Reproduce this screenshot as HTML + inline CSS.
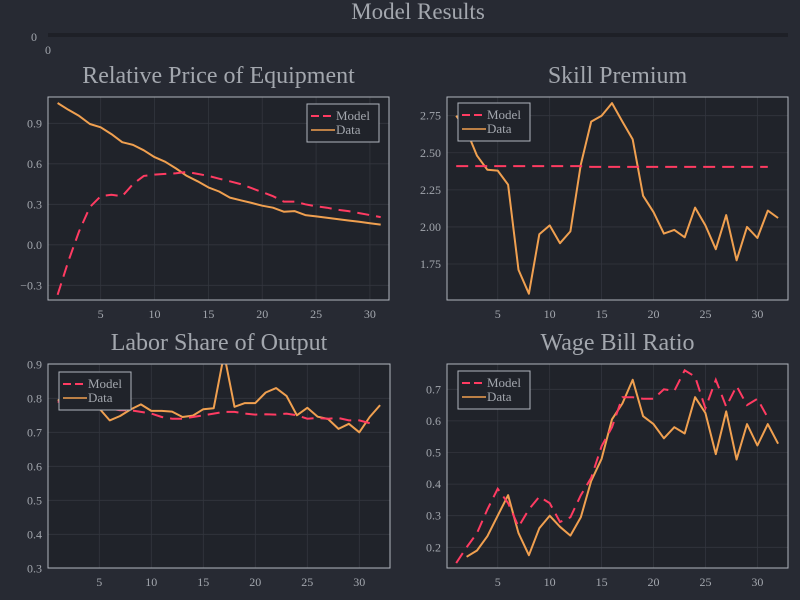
<!DOCTYPE html>
<html><head><meta charset="utf-8"><style>
html,body{margin:0;padding:0;background:#272a33;}
svg{display:block;font-family:"Liberation Serif",serif;}
</style></head><body>
<svg id="chart" width="800" height="600" viewBox="0 0 800 600" xmlns="http://www.w3.org/2000/svg">
<rect x="0" y="0" width="800" height="600" fill="#272a33"/>
<text x="418" y="19" text-anchor="middle" font-size="23" fill="#a3a7ae">Model Results</text>
<rect x="48" y="33" width="740" height="4" fill="#1e2027"/>
<text x="37" y="41" text-anchor="end" font-size="12" fill="#a3a7ae">0</text>
<text x="48" y="54" text-anchor="middle" font-size="12" fill="#a3a7ae">0</text>
</svg>
<script>
const p1Model=[-0.37,-0.12,0.10,0.28,0.36,0.37,0.36,0.45,0.51,0.52,0.525,0.53,0.54,0.525,0.51,0.49,0.47,0.45,0.42,0.39,0.36,0.32,0.32,0.30,0.285,0.275,0.26,0.25,0.235,0.22,0.205];
const p1Data=[1.05,1.00,0.955,0.895,0.87,0.82,0.76,0.74,0.70,0.65,0.615,0.565,0.51,0.47,0.425,0.395,0.35,0.33,0.31,0.29,0.275,0.245,0.25,0.22,0.21,0.20,0.19,0.18,0.17,0.16,0.15];
const p1YTicks=[-0.3,0.0,0.3,0.6,0.9];
const p1YLabels=["\u22120.3","0.0","0.3","0.6","0.9"];
const p2Model=[2.41,2.41,2.41,2.41,2.41,2.41,2.41,2.41,2.41,2.41,2.41,2.41,2.41,2.405,2.405,2.405,2.405,2.405,2.405,2.405,2.405,2.405,2.405,2.405,2.405,2.405,2.405,2.405,2.405,2.405,2.405];
const p2Data=[2.75,2.65,2.48,2.385,2.38,2.285,1.71,1.55,1.95,2.01,1.89,1.97,2.42,2.71,2.75,2.835,2.71,2.59,2.21,2.10,1.955,1.98,1.93,2.13,2.01,1.85,2.08,1.775,2.00,1.925,2.11,2.06];
const p2YTicks=[1.75,2.0,2.25,2.5,2.75];
const p2YLabels=["1.75","2.00","2.25","2.50","2.75"];
const p3Model=[0.79,0.785,0.78,0.775,0.77,0.77,0.765,0.765,0.76,0.755,0.745,0.74,0.74,0.745,0.75,0.755,0.76,0.76,0.755,0.752,0.753,0.752,0.755,0.75,0.74,0.742,0.74,0.742,0.735,0.735,0.727];
const p3Data=[0.795,0.79,0.785,0.78,0.77,0.735,0.748,0.767,0.782,0.763,0.763,0.761,0.745,0.749,0.768,0.771,0.93,0.775,0.786,0.786,0.817,0.83,0.807,0.75,0.772,0.746,0.739,0.71,0.725,0.70,0.745,0.78];
const p3YTicks=[0.3,0.4,0.5,0.6,0.7,0.8,0.9];
const p3YLabels=["0.3","0.4","0.5","0.6","0.7","0.8","0.9"];
const p4Model=[0.15,0.20,0.245,0.32,0.385,0.34,0.265,0.32,0.36,0.34,0.28,0.295,0.365,0.42,0.52,0.58,0.675,0.675,0.67,0.67,0.70,0.695,0.76,0.74,0.64,0.73,0.645,0.71,0.65,0.67,0.61];
const p4Data=[null,0.17,0.19,0.235,0.30,0.365,0.245,0.175,0.26,0.30,0.265,0.237,0.295,0.41,0.48,0.605,0.655,0.73,0.615,0.59,0.545,0.58,0.56,0.675,0.625,0.495,0.63,0.478,0.59,0.522,0.59,0.528];
const p4YTicks=[0.2,0.3,0.4,0.5,0.6,0.7];
const p4YLabels=["0.2","0.3","0.4","0.5","0.6","0.7"];
const xTicks=[5,10,15,20,25,30];

const NS="http://www.w3.org/2000/svg";
const svg=document.getElementById('chart');
function mk(tag,attrs,parent){const e=document.createElementNS(NS,tag);for(const k in attrs)e.setAttribute(k,attrs[k]);(parent||svg).appendChild(e);return e;}

const panels=[
 {id:'relative-price',title:'Relative Price of Equipment',box:[48,97,389,300],x1:57.6,xu:10.77,y0:0.9,yp0:123.3,yu:135,model:p1Model,data:p1Data,yt:p1YTicks,yl:p1YLabels,leg:[307,104]},
 {id:'skill-premium',title:'Skill Premium',box:[447,97,788,300],x1:456.2,xu:10.385,y0:2.75,yp0:115.7,yu:148.3,model:p2Model,data:p2Data,yt:p2YTicks,yl:p2YLabels,leg:[458,103]},
 {id:'labor-share',title:'Labor Share of Output',box:[48,364,390,568],x1:57.7,xu:10.4,y0:0.9,yp0:364.3,yu:340,model:p3Model,data:p3Data,yt:p3YTicks,yl:p3YLabels,leg:[59,372]},
 {id:'wage-bill',title:'Wage Bill Ratio',box:[447,364,788,568],x1:456.2,xu:10.385,y0:0.7,yp0:389.3,yu:316,model:p4Model,data:p4Data,yt:p4YTicks,yl:p4YLabels,leg:[458,371]}
];

panels.forEach(p=>{
 const [L,T,R,B]=p.box;
 const xs=v=>p.x1+(v-1)*p.xu;
 const ys=v=>p.yp0+(p.y0-v)*p.yu;
 const g=mk('g',{});
 
 
 const t=mk('text',{x:(L+R)/2,y:T-14,'text-anchor':'middle','font-size':24,fill:'#a3a7ae'},g);
 t.textContent=p.title;
 
 
 const bg=mk('rect',{x:L,y:T,width:R-L,height:B-T,fill:'#20232a'},g);
 
 
 const cid='clip-'+p.id;
 const cp=mk('clipPath',{id:cid},g);mk('rect',{x:L,y:T,width:R-L,height:B-T},cp);
 xTicks.forEach(v=>{
  const x=xs(v);
  const gl=mk('line',{x1:x,x2:x,y1:T,y2:B,stroke:'#33363e','stroke-width':0.8},g);
  
  
  const tl=mk('text',{x:x,y:B+18,'text-anchor':'middle','font-size':12,fill:'#a3a7ae'},g);
  tl.textContent=v;
  
  
 });
 p.yt.forEach((v,i)=>{
  const y=ys(v);
  const gl=mk('line',{x1:L,x2:R,y1:y,y2:y,stroke:'#33363e','stroke-width':0.8},g);
  
  
  const tl=mk('text',{x:L-6,y:y+4,'text-anchor':'end','font-size':12,fill:'#a3a7ae'},g);
  tl.textContent=p.yl[i];
  
  
 });
 const lg=mk('g',{'clip-path':'url(#'+cid+')'},g);
 function path(arr){let d='',pen=false;arr.forEach((v,i)=>{if(v==null){pen=false;return;}d+=(pen?'L':'M')+xs(i+1).toFixed(1)+','+ys(v).toFixed(1);pen=true;});return d;}
 const dl=mk('path',{d:path(p.data),fill:'none',stroke:'#f0a050','stroke-width':2,'stroke-linejoin':'round'},lg);
 
 
 const ml=mk('path',{d:path(p.model),fill:'none',stroke:'#ff3b62','stroke-width':2,'stroke-dasharray':'12 7'},lg);
 
 
 const fr=mk('rect',{x:L,y:T,width:R-L,height:B-T,fill:'none',stroke:'#b0b5bd','stroke-width':1},g);
 
 
 const [lx,ly]=p.leg;
 const leg=mk('g',{},g);
 
 
 mk('rect',{x:lx,y:ly,width:72,height:38,fill:'#20232a',stroke:'#b0b5bd','stroke-width':1},leg);
 mk('line',{x1:lx+4,x2:lx+28,y1:ly+12,y2:ly+12,stroke:'#ff3b62','stroke-width':2,'stroke-dasharray':'8 4'},leg);
 mk('line',{x1:lx+4,x2:lx+28,y1:ly+26,y2:ly+26,stroke:'#f0a050','stroke-width':1.5},leg);
 const e1=mk('text',{x:lx+29,y:ly+16,'font-size':13,fill:'#a3a7ae'},leg);e1.textContent='Model';
 
 
 const e2=mk('text',{x:lx+29,y:ly+30,'font-size':13,fill:'#a3a7ae'},leg);e2.textContent='Data';
 
 
});
</script>
</body></html>
